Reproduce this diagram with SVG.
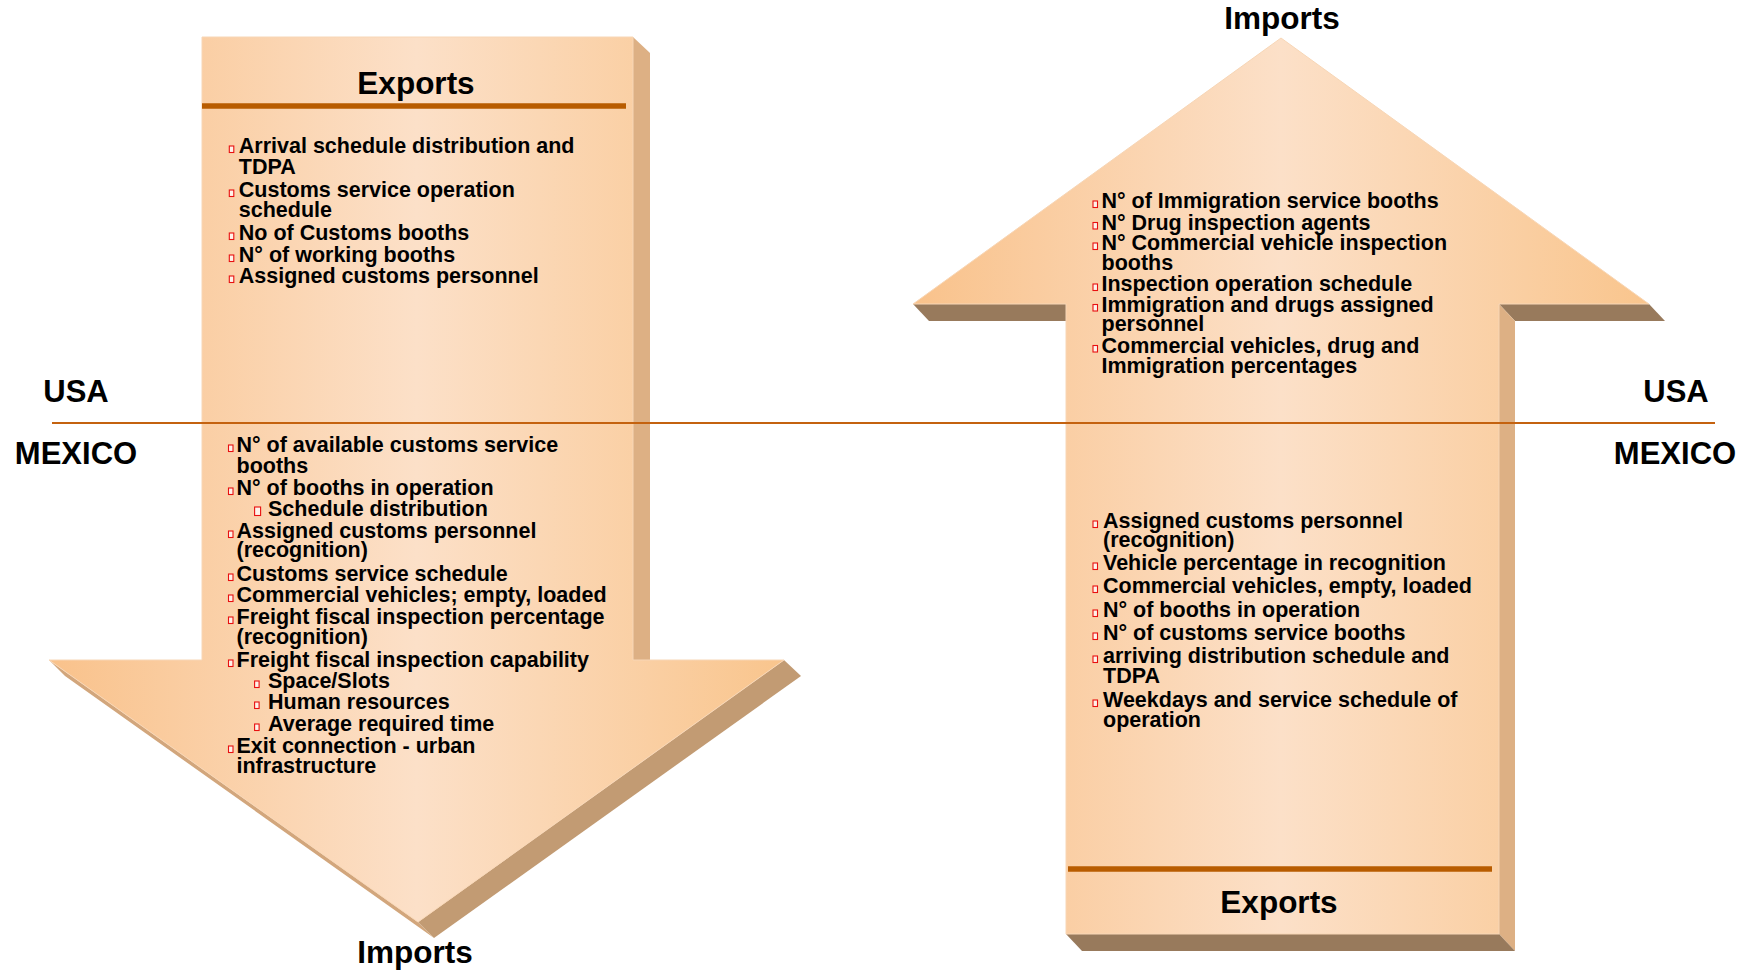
<svg xmlns="http://www.w3.org/2000/svg" xmlns:xlink="http://www.w3.org/1999/xlink" width="1748" height="973" viewBox="0 0 1748 973">
  <defs>
    <linearGradient id="faceDown" gradientUnits="userSpaceOnUse" x1="49" y1="0" x2="784" y2="0">
      <stop offset="0" stop-color="#F9C28B"/>
      <stop offset="0.5" stop-color="#FCE0C8"/>
      <stop offset="1" stop-color="#F9C58D"/>
    </linearGradient>
    <linearGradient id="faceUp" gradientUnits="userSpaceOnUse" x1="913" y1="0" x2="1649" y2="0">
      <stop offset="0" stop-color="#F9C28B"/>
      <stop offset="0.5" stop-color="#FCE0C8"/>
      <stop offset="1" stop-color="#F9C58D"/>
    </linearGradient>
    <rect id="bul" x="0" y="-7" width="4.5" height="6.5" class="bullet"/>
    <rect id="bulBig" x="0" y="-9" width="6" height="8.5" class="bullet"/>
  </defs>
  <style>
    .face { stroke: #F7D6B6; stroke-width: 1; }
    .side { fill: #DDB084; }
    .slope { fill: #C29B73; }
    .sliver { fill: #D2A67C; }
    .under { fill: #987A5C; }
    .rule { stroke: #B85C00; stroke-width: 5.5; }
    .divider { stroke: #C4620F; stroke-width: 2; }
    .bullet { fill: #FFF3EA; stroke: #E81010; stroke-width: 1.1; }
    text { font-family: "Liberation Sans", Arial, sans-serif; font-weight: bold; fill: #000; }
    .item { font-size: 21.5px; }
    .title { font-size: 31.5px; text-anchor: middle; }
    .country { font-size: 31px; text-anchor: middle; }
  </style>

  <!-- Downward arrow: exports from USA / imports into Mexico -->
  <g id="arrow-down">
    <polygon class="sliver" points="49,660 65,676 434,938 418,922"/>
    <polygon class="side" points="633,37 650,53 650,676 633,660"/>
    <polygon class="slope" points="784,660 801,676 434,938 418,922"/>
    <polygon class="face" fill="url(#faceDown)" points="202,37 633,37 633,660 784,660 418,922 49,660 202,660"/>
    <line class="rule" x1="202" y1="106" x2="626" y2="106"/>
    <text class="title" x="416" y="94">Exports</text>
    <g class="item">
      <use xlink:href="#bul" x="229.3" y="153"/><text x="238.8" y="153">Arrival schedule distribution and</text>
      <text x="238.8" y="174">TDPA</text>
      <use xlink:href="#bul" x="229.3" y="197"/><text x="238.8" y="197">Customs service operation</text>
      <text x="238.8" y="217">schedule</text>
      <use xlink:href="#bul" x="229.3" y="240"/><text x="238.8" y="240">No of Customs booths</text>
      <use xlink:href="#bul" x="229.3" y="262"/><text x="238.8" y="262">N° of working booths</text>
      <use xlink:href="#bul" x="229.3" y="283"/><text x="238.8" y="283">Assigned customs personnel</text>

      <use xlink:href="#bul" x="228.5" y="452"/><text x="236.5" y="452">N° of available customs service</text>
      <text x="236.5" y="473">booths</text>
      <use xlink:href="#bul" x="228.5" y="495"/><text x="236.5" y="495">N° of booths in operation</text>
      <use xlink:href="#bulBig" x="254.6" y="516"/><text x="268" y="516">Schedule distribution</text>
      <use xlink:href="#bul" x="228.5" y="538"/><text x="236.5" y="538">Assigned customs personnel</text>
      <text x="236.5" y="557">(recognition)</text>
      <use xlink:href="#bul" x="228.5" y="581"/><text x="236.5" y="581">Customs service schedule</text>
      <use xlink:href="#bul" x="228.5" y="602"/><text x="236.5" y="602">Commercial vehicles; empty, loaded</text>
      <use xlink:href="#bul" x="228.5" y="624"/><text x="236.5" y="624">Freight fiscal inspection percentage</text>
      <text x="236.5" y="644">(recognition)</text>
      <use xlink:href="#bul" x="228.5" y="667"/><text x="236.5" y="667">Freight fiscal inspection capability</text>
      <use xlink:href="#bul" x="254.6" y="688"/><text x="268" y="688">Space/Slots</text>
      <use xlink:href="#bul" x="254.6" y="709"/><text x="268" y="709">Human resources</text>
      <use xlink:href="#bul" x="254.6" y="731"/><text x="268" y="731">Average required time</text>
      <use xlink:href="#bul" x="228.5" y="753"/><text x="236.5" y="753">Exit connection - urban</text>
      <text x="236.5" y="773">infrastructure</text>
    </g>
    <text class="title" x="415" y="963">Imports</text>
  </g>

  <!-- Upward arrow: exports from Mexico / imports into USA -->
  <g id="arrow-up">
    <polygon class="under" points="913,304 1066,304 1082,321 929,321"/>
    <polygon class="under" points="1499,304 1649,304 1665,321 1515,321"/>
    <polygon class="side" points="1499,304 1515,321 1515,951 1499,934"/>
    <polygon class="under" points="1066,934 1499,934 1515,951 1082,951"/>
    <polygon class="face" fill="url(#faceUp)" points="1281,38 1649,304 1499,304 1499,934 1066,934 1066,304 913,304"/>
    <line class="rule" x1="1068" y1="869" x2="1492" y2="869"/>
    <text class="title" x="1279" y="913">Exports</text>
    <g class="item">
      <use xlink:href="#bul" x="1093" y="208"/><text x="1101.5" y="208">N° of Immigration service booths</text>
      <use xlink:href="#bul" x="1093" y="229.5"/><text x="1101.5" y="229.5">N° Drug inspection agents</text>
      <use xlink:href="#bul" x="1093" y="250"/><text x="1101.5" y="250">N° Commercial vehicle inspection</text>
      <text x="1101.5" y="270">booths</text>
      <use xlink:href="#bul" x="1093" y="291"/><text x="1101.5" y="291">Inspection operation schedule</text>
      <use xlink:href="#bul" x="1093" y="311.5"/><text x="1101.5" y="311.5">Immigration and drugs assigned</text>
      <text x="1101.5" y="331">personnel</text>
      <use xlink:href="#bul" x="1093" y="352.5"/><text x="1101.5" y="352.5">Commercial vehicles, drug and</text>
      <text x="1101.5" y="372.5">Immigration percentages</text>

      <use xlink:href="#bul" x="1093" y="528"/><text x="1103" y="528">Assigned customs personnel</text>
      <text x="1103" y="547">(recognition)</text>
      <use xlink:href="#bul" x="1093" y="570"/><text x="1103" y="570">Vehicle percentage in recognition</text>
      <use xlink:href="#bul" x="1093" y="593"/><text x="1103" y="593">Commercial vehicles, empty, loaded</text>
      <use xlink:href="#bul" x="1093" y="617"/><text x="1103" y="617">N° of booths in operation</text>
      <use xlink:href="#bul" x="1093" y="640"/><text x="1103" y="640">N° of customs service booths</text>
      <use xlink:href="#bul" x="1093" y="663"/><text x="1103" y="663">arriving distribution schedule and</text>
      <text x="1103" y="683">TDPA</text>
      <use xlink:href="#bul" x="1093" y="707"/><text x="1103" y="707">Weekdays and service schedule of</text>
      <text x="1103" y="727">operation</text>
    </g>
    <text class="title" x="1282" y="29">Imports</text>
  </g>

  <!-- Border line between the two countries -->
  <g id="connectors">
    <line class="divider" x1="52" y1="423" x2="1715" y2="423"/>
  </g>

  <g id="countries">
    <text class="country" x="76" y="402">USA</text>
    <text class="country" x="76" y="464">MEXICO</text>
    <text class="country" x="1676" y="402">USA</text>
    <text class="country" x="1675" y="464">MEXICO</text>
  </g>
</svg>
